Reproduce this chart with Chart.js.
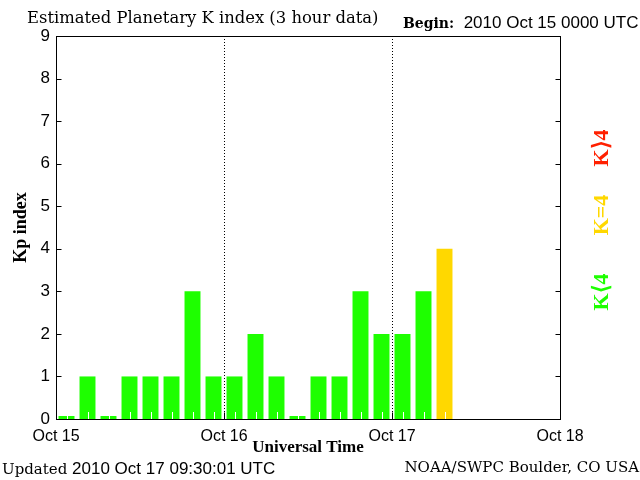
<!DOCTYPE html>
<html>
<head>
<meta charset="utf-8">
<script src="https://cdn.jsdelivr.net/npm/chart.js@4"></script>
<style>
  body { margin: 0; background: #fff; }
  #wrap { position: relative; width: 640px; height: 480px; }
  .txt { position: absolute; white-space: nowrap; color: #000; line-height: 1; }
  .serif { font-family: "DejaVu Serif", serif; font-size: 15px; }
  .sans { font-family: "Liberation Sans", sans-serif; font-size: 17px; }
  .klab { position: absolute; font-family: "Liberation Serif", serif; font-weight: bold; font-size: 22px;
          transform: translate(-50%, -50%) rotate(-90deg); white-space: nowrap; line-height: 1; }
</style>
</head>
<body>
<div id="wrap">
  <canvas id="kp-chart"></canvas>
  <div class="txt serif" style="left:27px; top:10px; font-size:16.4px;">Estimated Planetary K index (3 hour data)</div>
  <div class="txt" style="left:403px; top:14px;"><span class="serif" style="font-weight:bold;font-size:14px;">Begin:</span><span class="sans">&nbsp;&nbsp;2010 Oct 15 0000 UTC</span></div>
  <div class="txt" style="left:2px; top:460px;"><span class="serif">Updated </span><span class="sans">2010 Oct 17 09:30:01 UTC</span></div>
  <div class="txt serif" style="right:1px; top:460px;">NOAA/SWPC Boulder, CO USA</div>
  <div class="klab" style="left:601px; top:148px; color:#ff2000;">K&#x27E9;4</div>
  <div class="klab" style="left:601px; top:215px; color:#ffd800;">K=4</div>
  <div class="klab" style="left:601px; top:292px; color:#1eff00;">K&#x27E8;4</div>
</div>
<script>
// Kp index, 3 hour intervals starting 2010 Oct 15 00 UT
const dayLabels = ['Oct 15', 'Oct 16', 'Oct 17', 'Oct 18'];
const slotStartHours = [0, 3, 6, 9, 12, 15, 18, 21,
                        24, 27, 30, 33, 36, 39, 42, 45,
                        48, 51, 54];
const kpValues = [0, 1, 0, 1, 1, 1, 3, 1,
                  1, 2, 1, 0, 1, 1, 3, 2,
                  2, 3, 4];

const GREEN = '#1eff00';
const YELLOW = '#ffd800';
const RED = '#ff2000';

function kpColor(v) {
    if (v < 4) return GREEN;
    if (v === 4) return YELLOW;
    return RED;
}

// box round the plot, inward ticks, white slot ticks over the bars
const frame = {
    id: 'frame',
    afterDatasetsDraw(chart) {
        const ctx = chart.ctx;
        const x = chart.scales.x, y = chart.scales.y;
        const bottom = Math.round(y.getPixelForValue(0));
        ctx.save();
        ctx.lineWidth = 1;
        ctx.strokeStyle = '#fff';
        slotStartHours.forEach(h => {
            const px = Math.round(x.getPixelForValue(h + 1.5)) + 0.5;
            ctx.beginPath();
            ctx.moveTo(px, bottom);
            ctx.lineTo(px, bottom - 7);
            ctx.stroke();
        });
        ctx.restore();
    },
    afterDraw(chart) {
        const ctx = chart.ctx;
        const a = chart.chartArea;
        const x = chart.scales.x, y = chart.scales.y;
        ctx.save();
        ctx.lineWidth = 1;
        ctx.strokeStyle = '#000';
        ctx.setLineDash([]);
        const l = Math.round(a.left) + 0.5, r = Math.round(a.right) + 0.5;
        const t = Math.round(a.top) + 0.5, b = Math.round(a.bottom) + 0.5;
        ctx.strokeRect(l, t, r - l, b - t);
        ctx.beginPath();
        y.ticks.forEach(tk => {
            const py = Math.round(y.getPixelForValue(tk.value)) + 0.5;
            ctx.moveTo(l, py); ctx.lineTo(l + 5, py);
            ctx.moveTo(r, py); ctx.lineTo(r - 5, py);
        });
        x.ticks.forEach(tk => {
            const px = Math.round(x.getPixelForValue(tk.value)) + 0.5;
            ctx.moveTo(px, b); ctx.lineTo(px, b - 7);
        });
        ctx.stroke();
        ctx.restore();
    }
};

const ctxKp = document.getElementById('kp-chart').getContext('2d');
const kpChart = new Chart(ctxKp, {
    type: 'bar',
    data: {
        datasets: [{
            data: kpValues.map((v, i) => ({ x: slotStartHours[i] + 1.5, y: v })),
            backgroundColor: kpValues.map(kpColor),
            borderWidth: 0,
            categoryPercentage: 1,
            barPercentage: 0.76,
            minBarLength: 3
        }]
    },
    options: {
        responsive: true,
        maintainAspectRatio: false,
        animation: false,
        layout: { padding: { top: 36, right: 80, left: 0, bottom: 0 } },
        plugins: {
            legend: { display: false },
            tooltip: { enabled: false }
        },
        scales: {
            x: {
                type: 'linear',
                min: 0,
                max: 72,
                offset: false,
                grid: {
                    offset: false,
                    drawTicks: false,
                    lineWidth: 1,
                    color: c => (c.tick && c.tick.value > 0 && c.tick.value < 72) ? '#000' : 'rgba(0,0,0,0)'
                },
                border: { display: true, color: '#000', width: 1, dash: [1, 2] },
                ticks: {
                    stepSize: 24,
                    autoSkip: false,
                    maxRotation: 0,
                    padding: 8,
                    color: '#000',
                    font: { family: 'Liberation Sans', size: 16 },
                    callback: v => dayLabels[v / 24]
                },
                title: {
                    display: true,
                    text: 'Universal Time',
                    color: '#000',
                    font: { family: 'Liberation Serif', size: 17, weight: 'bold' },
                    padding: { top: 0, bottom: 22 }
                },
                afterFit: s => { s.height = 61; }
            },
            y: {
                min: 0,
                max: 9,
                grid: { display: false, drawTicks: false },
                border: { display: true, color: '#000', width: 1 },
                ticks: {
                    stepSize: 1,
                    padding: 6,
                    color: '#000',
                    font: { family: 'Liberation Sans', size: 17 }
                },
                title: {
                    display: true,
                    text: 'Kp index',
                    color: '#000',
                    font: { family: 'Liberation Serif', size: 18, weight: 'bold' },
                    padding: { top: 11, bottom: 0 }
                },
                afterFit: s => { s.width = 56; }
            }
        }
    },
    plugins: [frame]
});
</script>
</body>
</html>
